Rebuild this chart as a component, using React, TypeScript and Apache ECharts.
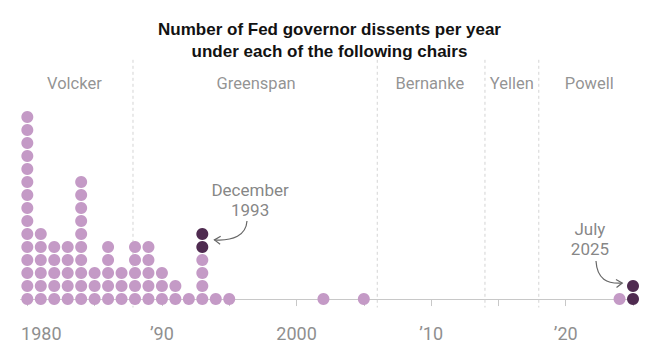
import React, { useEffect, useRef } from "react";
import * as echarts from "echarts";

const years = [1980, 1981, 1982, 1983, 1984, 1985, 1986, 1987, 1988, 1989, 1990, 1991, 1992, 1993, 1994, 1995, 2002, 2005, 2024, 2025];
const lightCounts = [15, 6, 5, 5, 10, 3, 5, 3, 5, 5, 3, 2, 1, 4, 1, 1, 1, 1, 1, 0];
const darkCounts = [0, 0, 0, 0, 0, 0, 0, 0, 0, 0, 0, 0, 0, 2, 0, 0, 0, 0, 0, 2];

const chairNames = ["Volcker", "Greenspan", "Bernanke", "Yellen", "Powell"];
const chairLabelX = [1983.5, 1997.0, 2009.9, 2016.0, 2021.75];
const chairStarts = [1987.85, 2006.0, 2014.0, 2018.0];

const tickValues = [1980, 1985, 1990, 1995, 2000, 2005, 2010, 2015, 2020, 2025];
const labelValues = [1980, 1990, 2000, 2010, 2020];
const labelTexts = ["1980", "\u201990", "2000", "\u201910", "\u201920"];

const notes = [
  { text: "December\n1993", x: 1996.55, y: 7.6 },
  { text: "July\n2025", x: 2021.8, y: 4.6 },
];
// arrows: start, cp1, cp2, end in data coords
const arrows = [
  [[1996.32, 6.0], [1996.25, 4.9], [1995.3, 4.45], [1993.9, 4.55]],
  [[2022.25, 2.92], [2022.33, 1.54], [2023.07, 1.15], [2024.2, 1.23]],
];

const LIGHT = "#c49ac6";
const DARK = "#4f2b50";

export default function App() {
  const ref = useRef<HTMLDivElement>(null);
  useEffect(() => {
    if (!ref.current) return;
    const chart = echarts.init(ref.current, null, { renderer: "svg" });
    const lightData: number[][] = [];
    const darkData: number[][] = [];
    years.forEach((y, i) => {
      for (let r = 0; r < lightCounts[i]; r++) lightData.push([y, r]);
      for (let r = 0; r < darkCounts[i]; r++) darkData.push([y, lightCounts[i] + r]);
    });
    const font = "Roboto, 'Liberation Sans', sans-serif";
    const titleFont = "'Liberation Sans', Arial, sans-serif";
    chart.setOption({
      animation: false,
      title: {
        text: "Number of Fed governor dissents per year\nunder each of the following chairs",
        left: "center",
        top: 13,
        textStyle: {
          fontFamily: titleFont,
          fontWeight: "bold",
          fontSize: 17,
          lineHeight: 22,
          color: "#121212",
        },
      },
      grid: { left: 20.6, right: 23.3, top: 65, bottom: 43.5 },
      xAxis: {
        type: "value",
        min: 1979.5,
        max: 2025.2,
        splitLine: { show: false },
        axisLine: { show: true, lineStyle: { color: "#c8c8c8", width: 1 } },
        axisTick: {
          show: true,
          length: 7,
          customValues: tickValues,
          lineStyle: { color: "#c8c8c8" },
        },
        axisLabel: {
          customValues: labelValues,
          margin: 17,
          fontFamily: font,
          fontSize: 18,
          fontWeight: "normal",
          color: "#8f8f8f",
          formatter: (v: number) => {
            const i = labelValues.indexOf(Math.round(v));
            const t = i >= 0 ? labelTexts[i] : "";
            return i === 0 ? "{f|" + t + "}" : t;
          },
          rich: {
            f: {
              fontFamily: font,
              fontSize: 18,
              color: "#8f8f8f",
              padding: [0, 0, 0, 28],
            },
          },
        },
      },
      yAxis: {
        type: "value",
        min: -0.65,
        max: 18,
        show: false,
        splitLine: { show: false },
      },
      series: [
        {
          type: "custom",
          silent: true,
          clip: false,
          z: 1,
          data: chairStarts.map((x) => [x]),
          renderItem: (params: any, api: any) => {
            const x = chairStarts[params.dataIndex];
            const top = api.coord([x, 18.4]);
            const bot = api.coord([x, -0.65]);
            return {
              type: "line",
              shape: { x1: top[0], y1: top[1], x2: bot[0], y2: bot[1] },
              style: { stroke: "#d4d4d4", lineWidth: 1, lineDash: [3, 3] },
            };
          },
        },
        {
          type: "scatter",
          data: lightData,
          symbolSize: 12,
          itemStyle: { color: LIGHT, opacity: 1 },
          silent: true,
          z: 3,
        },
        {
          type: "scatter",
          data: darkData,
          symbolSize: 12,
          itemStyle: { color: DARK, opacity: 1 },
          silent: true,
          z: 4,
        },
        {
          type: "scatter",
          data: chairNames.map((n, i) => ({ value: [chairLabelX[i], 16.6], name: n })),
          symbolSize: 0,
          silent: true,
          label: {
            show: true,
            position: "inside",
            formatter: (p: any) => p.name,
            fontFamily: font,
            fontSize: 16.5,
            fontWeight: "normal",
            color: "#777777",
          },
        },
        {
          type: "scatter",
          data: notes.map((n) => ({ value: [n.x, n.y], name: n.text })),
          symbolSize: 0,
          silent: true,
          label: {
            show: true,
            position: "inside",
            formatter: (p: any) => p.name,
            fontFamily: font,
            fontSize: 17,
            fontWeight: "normal",
            lineHeight: 20,
            align: "center",
            color: "#666666",
          },
        },
        {
          type: "custom",
          silent: true,
          clip: false,
          data: arrows.map((a, i) => [i]),
          renderItem: (params: any, api: any) => {
            const a = arrows[params.dataIndex];
            const p = a.map((c) => api.coord(c));
            const end = p[3];
            const c2 = p[2];
            const dx = end[0] - c2[0];
            const dy = end[1] - c2[1];
            const len = Math.sqrt(dx * dx + dy * dy) || 1;
            const ux = dx / len, uy = dy / len;
            const hl = 6, hw = 4;
            const bx = end[0] - ux * hl, by = end[1] - uy * hl;
            return {
              type: "group",
              children: [
                {
                  type: "bezierCurve",
                  shape: {
                    x1: p[0][0], y1: p[0][1],
                    cpx1: p[1][0], cpy1: p[1][1],
                    cpx2: p[2][0], cpy2: p[2][1],
                    x2: end[0], y2: end[1],
                  },
                  style: { stroke: "#666", lineWidth: 1.2, fill: "none" },
                },
                {
                  type: "polyline",
                  shape: {
                    points: [
                      [bx - uy * hw, by + ux * hw],
                      [end[0], end[1]],
                      [bx + uy * hw, by - ux * hw],
                    ],
                  },
                  style: { stroke: "#666", lineWidth: 1.2, fill: "none" },
                },
              ],
            };
          },
        },
      ],
    });
    return () => chart.dispose();
  }, []);
  return <div ref={ref} style={{ width: 659, height: 351, position: "absolute", left: 0, top: 0 }} />;
}
